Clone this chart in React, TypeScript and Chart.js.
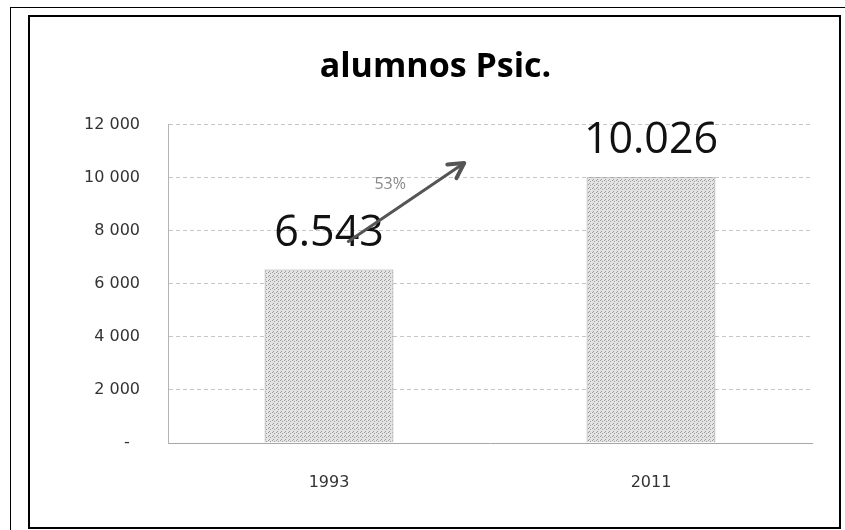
import React, { useEffect, useRef } from 'react';
import { Chart, registerables } from 'chart.js';

Chart.register(...registerables);

// ---- data ----
const TITLE = 'alumnos Psic.';
const categories = ['1993', '2011'];
const alumnos = [6543, 10026];
const yMin = 0;
const yMax = 12000;
const yStep = 2000;
// growth arrow annotation, in data units: [category position, value]
const arrowFrom = [0.06, 7600];
const arrowTo = [0.42, 10560];
const growthLabelAt = [0.19, 9750];

const growthPct = Math.round(((alumnos[1] - alumnos[0]) / alumnos[0]) * 100);

const fmtSpace = (n: number) => (n === 0 ? '-  ' : String(n).replace(/\B(?=(\d{3})+(?!\d))/g, ' '));
const fmtDot = (n: number) => String(n).replace(/\B(?=(\d{3})+(?!\d))/g, '.');

function makePattern(): CanvasPattern | string {
  const c = document.createElement('canvas');
  c.width = 4;
  c.height = 4;
  const g = c.getContext('2d');
  if (!g) return '#d6d6d6';
  g.fillStyle = '#e4e4e4';
  g.fillRect(0, 0, 4, 4);
  g.fillStyle = '#9c9c9c';
  g.fillRect(0, 0, 1, 1);
  g.fillRect(2, 1, 1, 1);
  g.fillRect(1, 3, 1, 1);
  const p = g.createPattern(c, 'repeat');
  return p || '#d6d6d6';
}

const overlayPlugin = {
  id: 'overlay',
  afterDatasetsDraw(chart: any) {
    const ctx = chart.ctx as CanvasRenderingContext2D;
    const meta = chart.getDatasetMeta(0);
    const xs = chart.scales.x;
    const ys = chart.scales.y;
    ctx.save();
    // value labels
    ctx.font = '43px "Open Sans"';
    ctx.fillStyle = '#111';
    ctx.textAlign = 'center';
    ctx.textBaseline = 'middle';
    meta.data.forEach((bar: any, i: number) => {
      ctx.fillText(fmtDot(alumnos[i]), bar.x, bar.y - 36);
    });
    // growth label
    ctx.font = '16px "Open Sans"';
    ctx.fillStyle = '#8a8a8a';
    ctx.fillText(growthPct + '%', xs.getPixelForValue(growthLabelAt[0]), ys.getPixelForValue(growthLabelAt[1]));
    // arrow
    const x1 = xs.getPixelForValue(arrowFrom[0]);
    const y1 = ys.getPixelForValue(arrowFrom[1]);
    const x2 = xs.getPixelForValue(arrowTo[0]);
    const y2 = ys.getPixelForValue(arrowTo[1]);
    const ang = Math.atan2(y2 - y1, x2 - x1);
    ctx.strokeStyle = '#555';
    ctx.lineWidth = 3;
    ctx.lineCap = 'round';
    ctx.lineJoin = 'round';
    ctx.beginPath();
    ctx.moveTo(x1, y1);
    ctx.lineTo(x2, y2);
    ctx.stroke();
    const hl = 17;
    ctx.beginPath();
    ctx.moveTo(x2 - hl * Math.cos(ang - 0.5), y2 - hl * Math.sin(ang - 0.5));
    ctx.lineTo(x2, y2);
    ctx.lineTo(x2 - hl * Math.cos(ang + 0.5), y2 - hl * Math.sin(ang + 0.5));
    ctx.lineWidth = 4;
    ctx.stroke();
    ctx.restore();
  },
};

export default function App() {
  const ref = useRef<HTMLCanvasElement>(null);

  useEffect(() => {
    if (!ref.current) return;
    const chart = new Chart(ref.current, {
      type: 'bar',
      data: {
        labels: categories,
        datasets: [
          {
            label: TITLE,
            data: alumnos,
            backgroundColor: makePattern() as any,
            borderColor: '#9a9a9a',
            borderWidth: 1,
            barPercentage: 0.4,
            categoryPercentage: 1.0,
          },
        ],
      },
      options: {
        responsive: false,
        animation: false,
        devicePixelRatio: 1,
        layout: { padding: { left: 30, right: 4, top: 15, bottom: 2 } },
        plugins: {
          legend: { display: false },
          tooltip: { enabled: false },
          title: {
            display: true,
            text: TITLE,
            color: '#000',
            font: { family: '"Open Sans"', size: 34, weight: 'bold' },
            padding: { top: 32, bottom: 37 },
          },
        },
        scales: {
          x: {
            grid: { display: false, drawTicks: false },
            border: { display: true, color: '#a8a8a8', width: 1 },
            ticks: {
              color: '#333',
              font: { family: '"DejaVu Sans"', size: 16 },
              padding: 30,
            },
            afterFit: (s: any) => {
              s.height = 85;
            },
          },
          y: {
            min: yMin,
            max: yMax,
            grid: { color: '#c6c6c6', drawTicks: false, lineWidth: 1 },
            border: { display: true, color: '#b4b4b4', width: 1, dash: [4, 3] },
            ticks: {
              stepSize: yStep,
              color: '#333',
              font: { family: '"DejaVu Sans"', size: 16 },
              padding: 28,
              callback: (v: any) => fmtSpace(Number(v)),
            },
            afterFit: (s: any) => {
              s.width = 138;
            },
          },
          rightPad: {
            type: 'linear',
            position: 'right',
            display: true,
            grid: { display: false, drawTicks: false },
            border: { display: false },
            ticks: { display: false },
            afterFit: (s: any) => {
              s.width = 29;
            },
          },
        },
      } as any,
      plugins: [overlayPlugin],
    });
    return () => chart.destroy();
  }, []);

  return (
    <div
      style={{
        position: 'fixed',
        left: 0,
        top: 0,
        width: 845,
        height: 530,
        overflow: 'hidden',
        background: '#fff',
      }}
    >
      <div
        style={{
          position: 'absolute',
          left: 10,
          top: 7,
          width: 900,
          height: 600,
          border: '1px solid #000',
          boxSizing: 'border-box',
        }}
      />
      <div
        style={{
          position: 'absolute',
          left: 28,
          top: 15,
          width: 813,
          height: 514,
          border: '2px solid #000',
          boxSizing: 'border-box',
          background: '#fff',
        }}
      />
      <canvas
        ref={ref}
        width={845}
        height={530}
        style={{ position: 'absolute', left: 0, top: 0, width: 845, height: 530 }}
      />
    </div>
  );
}
